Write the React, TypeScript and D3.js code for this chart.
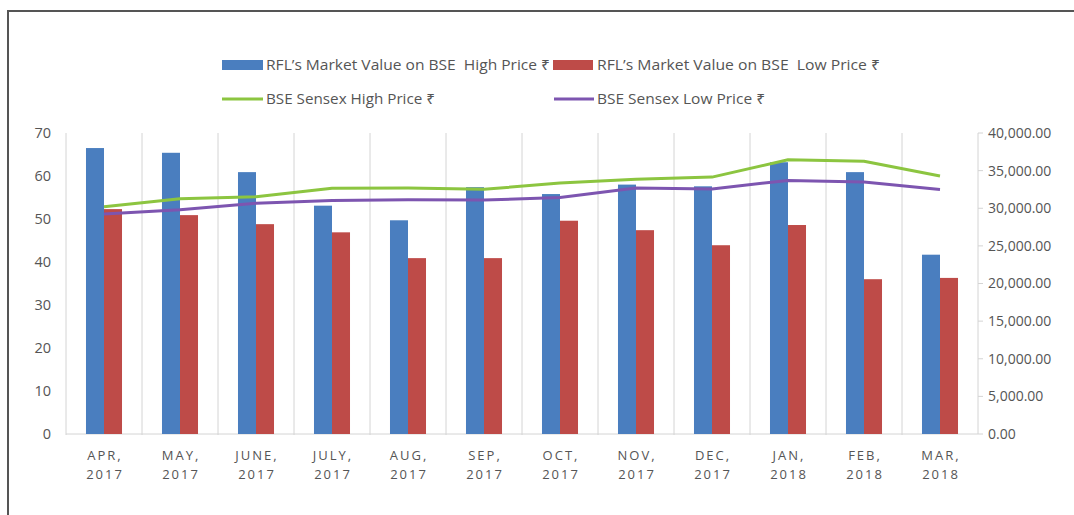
import React from "react";
import * as d3 from "d3";

const categories = ["APR,|2017", "MAY,|2017", "JUNE,|2017", "JULY,|2017", "AUG,|2017", "SEP,|2017", "OCT,|2017", "NOV,|2017", "DEC,|2017", "JAN,|2018", "FEB,|2018", "MAR,|2018"];
const rflHigh = [66.5, 65.4, 60.9, 53.1, 49.7, 57.4, 55.8, 58.0, 57.6, 63.2, 60.9, 41.7];
const rflLow = [52.3, 50.9, 48.8, 46.9, 40.9, 40.9, 49.6, 47.4, 43.9, 48.6, 36.0, 36.3];
const sensexHigh = [30184, 31255, 31523, 32672, 32686, 32524, 33340, 33866, 34138, 36444, 36257, 34278];
const sensexLow = [29241, 29804, 30680, 31017, 31128, 31082, 31440, 32684, 32565, 33703, 33483, 32484];
const leftTicks = [0, 10, 20, 30, 40, 50, 60, 70];
const rightTicks = [0, 5000, 10000, 15000, 20000, 25000, 30000, 35000, 40000];
const legendLabels = [
  "RFL\u2019s Market Value on BSE\u00a0 High Price \u20B9",
  "RFL\u2019s Market Value on BSE\u00a0 Low Price \u20B9",
  "BSE Sensex High Price \u20B9",
  "BSE Sensex Low Price \u20B9",
];

const BLUE = "#4a7ebf";
const RED = "#be4b48";
const GREEN = "#8cc540";
const PURPLE = "#7d55b0";
const TEXT = "#555555";
const FONT = "'Open Sans', 'Noto Sans', 'DejaVu Sans', sans-serif";

export default function App() {
  const left = 66, right = 978, top = 133, bottom = 434;
  const x = d3.scaleBand<string>().domain(categories).range([left, right]);
  const yL = d3.scaleLinear().domain([0, 70]).range([bottom, top]);
  const yR = d3.scaleLinear().domain([0, 40000]).range([bottom, top]);
  const bw = x.bandwidth() * 0.237;
  const cx = (c: string) => (x(c) as number) + x.bandwidth() / 2;
  const lineGen = d3.line<number>().x((_, i) => cx(categories[i])).y((d) => yR(d));
  const fmtR = d3.format(",.2f");

  return (
    <svg width={1074} height={515} style={{ position: "fixed", left: 0, top: 0, background: "#fff" }} fontFamily={FONT}>
      <rect x={0} y={0} width={1074} height={515} fill="#fff" />
      <path d="M8,515 V11 H1074" fill="none" stroke="#555" strokeWidth={2} />

      {categories.map((c, i) => (
        <line key={"g" + i} x1={x(c)} x2={x(c)} y1={top} y2={bottom + 1} stroke="#d4d4d4" strokeWidth={1} />
      ))}
      <line x1={left} x2={right} y1={bottom} y2={bottom} stroke="#d4d4d4" strokeWidth={1} />
      <line x1={right} x2={right} y1={top} y2={bottom} stroke="#d4d4d4" strokeWidth={1} />
      {rightTicks.map((t) => (
        <line key={"rt" + t} x1={right} x2={right + 5} y1={yR(t)} y2={yR(t)} stroke="#d4d4d4" />
      ))}

      {categories.map((c, i) => (
        <g key={"b" + i}>
          <rect x={cx(c) - bw} y={yL(rflHigh[i])} width={bw} height={bottom - yL(rflHigh[i])} fill={BLUE} />
          <rect x={cx(c)} y={yL(rflLow[i])} width={bw} height={bottom - yL(rflLow[i])} fill={RED} />
        </g>
      ))}

      <path d={lineGen(sensexHigh) || ""} fill="none" stroke={GREEN} strokeWidth={3} strokeLinejoin="round" />
      <path d={lineGen(sensexLow) || ""} fill="none" stroke={PURPLE} strokeWidth={3} strokeLinejoin="round" />

      {leftTicks.map((t) => (
        <text key={"l" + t} x={51} y={yL(t)} dy="0.35em" textAnchor="end" fontSize={14.5} fill={TEXT}>{t}</text>
      ))}
      {rightTicks.map((t) => (
        <text key={"r" + t} x={988} y={yR(t)} dy="0.35em" textAnchor="start" fontSize={14} fill={TEXT}>{fmtR(t)}</text>
      ))}
      {categories.map((c, i) => {
        const [a, b] = c.split("|");
        return (
          <text key={"x" + i} x={cx(c) + 1} textAnchor="middle" fontSize={13} fill={TEXT} letterSpacing={2}>
            <tspan x={cx(c) + 1} y={460}>{a}</tspan>
            <tspan x={cx(c) + 1} y={479}>{b}</tspan>
          </text>
        );
      })}

      <rect x={222} y={60} width={41} height={10} fill={BLUE} />
      <text x={266} y={70} fontSize={14} fill={TEXT} textLength={284} lengthAdjust="spacingAndGlyphs">{legendLabels[0]}</text>
      <rect x={553} y={60} width={40} height={10} fill={RED} />
      <text x={597} y={70} fontSize={14} fill={TEXT} textLength={283} lengthAdjust="spacingAndGlyphs">{legendLabels[1]}</text>
      <line x1={222} x2={263} y1={99} y2={99} stroke={GREEN} strokeWidth={3} />
      <text x={266} y={104} fontSize={14} fill={TEXT} textLength={169} lengthAdjust="spacingAndGlyphs">{legendLabels[2]}</text>
      <line x1={554} x2={594} y1={99} y2={99} stroke={PURPLE} strokeWidth={3} />
      <text x={597} y={104} fontSize={14} fill={TEXT} textLength={168} lengthAdjust="spacingAndGlyphs">{legendLabels[3]}</text>
    </svg>
  );
}
